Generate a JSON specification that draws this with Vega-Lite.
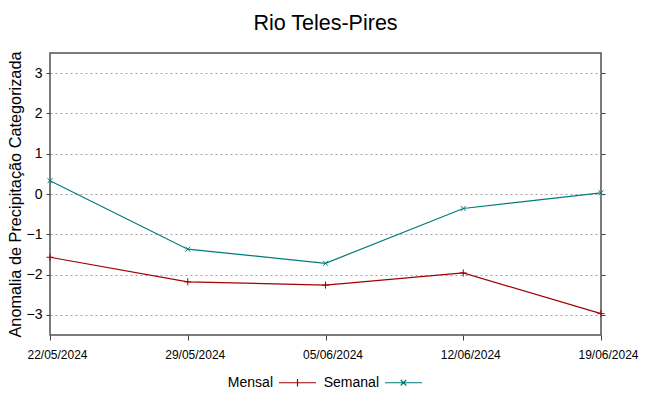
{
  "$schema": "https://vega.github.io/schema/vega-lite/v6.json",
  "autosize": {"type": "none"},
  "padding": {"left": 50, "top": 53, "right": 48, "bottom": 61},
  "width": 551,
  "height": 282,
  "title": {"text": "Rio Teles-Pires", "fontSize": 21.5, "font": "Liberation Sans", "fontWeight": "normal", "color": "#000000", "offset": 17, "anchor": "middle"},
  "config": {
    "font": "Liberation Sans",
    "view": {"stroke": "#505050", "strokeWidth": 1.5},
    "axis": {"domain": false, "labelColor": "#000000", "titleColor": "#000000", "tickColor": "#404040"}
  },
  "data": {
    "values": [
      {"data": "22/05/2024", "serie": "Mensal", "marcador": "mais", "valor": -1.57},
      {"data": "29/05/2024", "serie": "Mensal", "marcador": "mais", "valor": -2.18},
      {"data": "05/06/2024", "serie": "Mensal", "marcador": "mais", "valor": -2.26},
      {"data": "12/06/2024", "serie": "Mensal", "marcador": "mais", "valor": -1.96},
      {"data": "19/06/2024", "serie": "Mensal", "marcador": "mais", "valor": -2.97},
      {"data": "22/05/2024", "serie": "Semanal", "marcador": "xis", "valor": 0.33},
      {"data": "29/05/2024", "serie": "Semanal", "marcador": "xis", "valor": -1.37},
      {"data": "05/06/2024", "serie": "Semanal", "marcador": "xis", "valor": -1.72},
      {"data": "12/06/2024", "serie": "Semanal", "marcador": "xis", "valor": -0.36},
      {"data": "19/06/2024", "serie": "Semanal", "marcador": "xis", "valor": 0.03}
    ]
  },
  "encoding": {
    "x": {
      "field": "data", "type": "ordinal",
      "scale": {"type": "point", "padding": 0, "domain": ["22/05/2024", "29/05/2024", "05/06/2024", "12/06/2024", "19/06/2024"]},
      "axis": {"title": null, "labelAngle": 0, "labelFontSize": 12, "labelPadding": 9, "labelOffset": 7, "tickSize": 5, "grid": false, "labelFont": "Liberation Sans"}
    },
    "color": {
      "field": "serie", "type": "nominal",
      "scale": {"domain": ["Mensal", "Semanal"], "range": ["#a00000", "#007b7b"]},
      "legend": {
        "orient": "none", "legendX": 228, "legendY": 310, "direction": "horizontal", "title": null,
        "labelFontSize": 14, "labelAlign": "right", "labelOffset": -44, "symbolSize": 1369, "columnPadding": 4,
        "symbolStrokeWidth": 1.2, "symbolFillColor": "transparent",
        "symbolType": {"expr": "datum.value === 'Mensal' ? 'M-1,0H1M0,-0.2V0.2' : 'M-1,0H1M-0.15,-0.15L0.15,0.15M-0.15,0.15L0.15,-0.15'"}
      }
    }
  },
  "layer": [
    {
      "mark": {"type": "line", "strokeWidth": 1.2},
      "encoding": {
        "y": {
          "field": "valor", "type": "quantitative",
          "scale": {"domain": [-3.5, 3.5], "nice": false, "zero": false},
          "axis": {"title": "Anomalia de Precipitação Categorizada", "titleFontSize": 16.3, "titleFontWeight": "normal", "titlePadding": 3, "labelFontSize": 14, "values": [-3, -2, -1, 0, 1, 2, 3], "grid": true, "gridColor": "#a0a0a0", "gridDash": [2, 3], "gridWidth": 1, "tickSize": 4, "labelPadding": 4}
        }
      }
    },
    {
      "mark": {"type": "point", "filled": false, "size": 50, "strokeWidth": 1, "opacity": 1},
      "encoding": {
        "shape": {
          "field": "marcador", "type": "nominal",
          "scale": {"domain": ["mais", "xis"], "range": ["M-1,0H1M0,-1V1", "M-0.7,-0.7L0.7,0.7M-0.7,0.7L0.7,-0.7"]},
          "legend": null
        },
        "y": {
          "field": "valor", "type": "quantitative",
          "scale": {"domain": [-3.5, 3.5], "nice": false, "zero": false},
          "axis": {"orient": "right", "title": null, "labels": false, "values": [-3, -2, -1, 0, 1, 2, 3], "grid": false, "tickSize": 4}
        }
      }
    }
  ],
  "resolve": {"axis": {"y": "independent"}}
}
